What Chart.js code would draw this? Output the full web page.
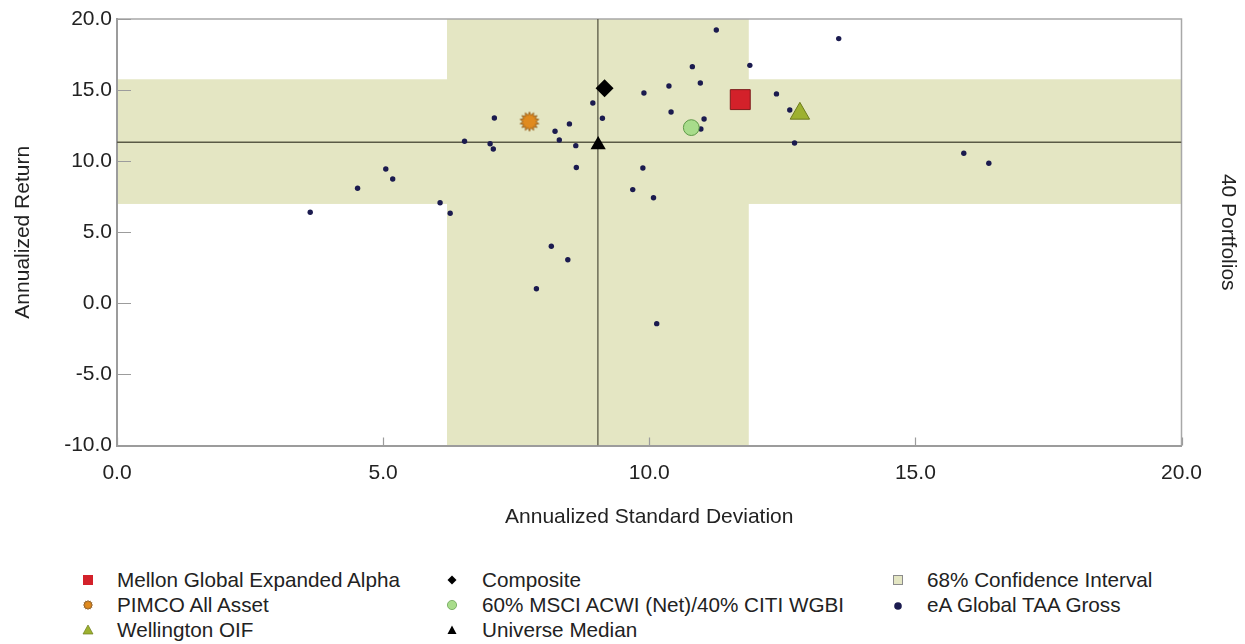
<!DOCTYPE html>
<html>
<head>
<meta charset="utf-8">
<script src="https://cdn.jsdelivr.net/npm/chart.js@4.4.1/dist/chart.umd.min.js"></script>
<style>
html,body{margin:0;padding:0;background:#fff;}
#wrap{position:relative;width:1245px;height:644px;font-family:"Liberation Sans",Arial,sans-serif;overflow:hidden;}
#c{position:absolute;left:0;top:0;}
.lg{position:absolute;font-size:20.7px;color:#222;line-height:24px;height:24px;white-space:nowrap;}
.lg canvas{position:absolute;top:2px;}
</style>
</head>
<body>
<div id="wrap">
<canvas id="c" width="1245" height="545"></canvas>
<div id="legend"></div>
</div>
<script>
// ---------------- DATA ----------------
const xTickValues = [0, 5, 10, 15, 20];
const yTickValues = [-10, -5, 0, 5, 10, 15, 20];

// eA Global TAA Gross universe (annualized std dev, annualized return)
const universeSD = [11.26, 10.81, 11.89, 10.96, 10.37, 9.90, 8.94, 12.39, 12.64, 10.41,
                    7.09, 9.12, 11.03, 8.50, 8.23, 10.97, 6.53, 8.31, 7.01, 7.07,
                    8.62, 12.73, 8.63, 9.88, 9.69, 10.08, 6.07, 6.26, 8.16, 8.47,
                    7.88, 10.14, 3.63, 4.52, 5.05, 5.18, 13.56, 15.91, 16.38];
const universeReturn = [19.23, 16.65, 16.74, 15.50, 15.29, 14.80, 14.09, 14.73, 13.60, 13.46,
                        13.04, 13.02, 12.97, 12.62, 12.10, 12.26, 11.40, 11.49, 11.23, 10.86,
                        11.09, 11.28, 9.55, 9.52, 8.00, 7.43, 7.08, 6.34, 4.01, 3.07,
                        1.03, -1.43, 6.41, 8.09, 9.45, 8.75, 18.62, 10.56, 9.85];

const seriesNames = ['Mellon Global Expanded Alpha', 'PIMCO All Asset', 'Wellington OIF',
                     'Composite', '60% MSCI ACWI (Net)/40% CITI WGBI', 'Universe Median'];
const seriesSD = [11.71, 7.75, 12.83, 9.16, 10.79, 9.04];
const seriesReturn = [14.33, 12.79, 13.35, 15.13, 12.36, 11.15];

const ciName = '68% Confidence Interval';
const ciSD = [6.20, 11.87];       // low, high
const ciReturn = [6.99, 15.76];   // low, high
const medianSD = 9.035;
const medianReturn = 11.33;
const universeName = 'eA Global TAA Gross';
const portfolioCount = 40;

// ---------------- STYLES ----------------
const FONT = '"Liberation Sans", Arial, sans-serif';
const bandColor = '#e4e6c3';
const medianLineColor = '#5a5a46';
const frameColor = '#9c9c9c';

function makeStar(size, outer, inner, n, fill, stroke) {
  const c = document.createElement('canvas');
  c.width = c.height = size;
  const g = c.getContext('2d');
  g.beginPath();
  for (let i = 0; i < 2 * n; i++) {
    const r = i % 2 ? inner : outer;
    const a = i * Math.PI / n - Math.PI / 2;
    const px = size / 2 + r * Math.cos(a), py = size / 2 + r * Math.sin(a);
    if (i) g.lineTo(px, py); else g.moveTo(px, py);
  }
  g.closePath();
  g.fillStyle = fill; g.fill();
  g.lineWidth = 0.8; g.strokeStyle = stroke; g.stroke();
  return c;
}
const starBig = makeStar(22, 9.6, 6.4, 14, '#e08a1e', '#8a5210');

const seriesStyles = [
  {pointStyle: 'rect', radius: 14.1, bg: '#d3212a', border: '#7d1a1a', bw: 1},
  {pointStyle: starBig, radius: 10, bg: '#e08a1e', border: '#8a5210', bw: 0},
  {pointStyle: 'triangle', radius: 11.2, bg: '#9db12f', border: '#6d7c1c', bw: 1},
  {pointStyle: 'rectRot', radius: 9, bg: '#000000', border: '#000000', bw: 0},
  {pointStyle: 'circle', radius: 7.9, bg: '#a8dc8b', border: '#5f9a48', bw: 1},
  {pointStyle: 'triangle', radius: 8.8, bg: '#000000', border: '#000000', bw: 0}
];

// ---------------- DATASETS ----------------
const datasets = [];
datasets.push({
  label: 'median-h', type: 'scatter', showLine: true, order: 5,
  data: [{x: xTickValues[0], y: medianReturn}, {x: xTickValues[xTickValues.length - 1], y: medianReturn}],
  borderColor: medianLineColor, borderWidth: 1.3, pointRadius: 0, fill: false
});
datasets.push({
  label: 'median-v', type: 'scatter', showLine: true, order: 5,
  data: [{x: medianSD, y: yTickValues[0]}, {x: medianSD, y: yTickValues[yTickValues.length - 1]}],
  borderColor: medianLineColor, borderWidth: 1.3, pointRadius: 0, fill: false
});
datasets.push({
  label: universeName, type: 'scatter', order: 3,
  data: universeSD.map((x, i) => ({x, y: universeReturn[i]})),
  pointStyle: 'circle', pointRadius: 2.7, pointBackgroundColor: '#1b1b4f', pointBorderWidth: 0
});
seriesNames.forEach((name, i) => {
  const s = seriesStyles[i];
  datasets.push({
    label: name, type: 'scatter', order: 1,
    data: [{x: seriesSD[i], y: seriesReturn[i]}],
    pointStyle: s.pointStyle, pointRadius: s.radius,
    pointBackgroundColor: s.bg, pointBorderColor: s.border, pointBorderWidth: s.bw
  });
});

// ---------------- PLUGIN: confidence band, frame, inward ticks ----------------
const bandPlugin = {
  id: 'bandPlugin',
  beforeDraw(chart) {
    const {ctx, chartArea: a, scales: {x, y}} = chart;
    ctx.save();
    ctx.fillStyle = bandColor;
    const vx1 = x.getPixelForValue(ciSD[0]), vx2 = x.getPixelForValue(ciSD[1]);
    ctx.fillRect(vx1, a.top, vx2 - vx1, a.bottom - a.top);
    const hy1 = y.getPixelForValue(ciReturn[1]), hy2 = y.getPixelForValue(ciReturn[0]);
    ctx.fillRect(a.left, hy1, a.right - a.left, hy2 - hy1);
    ctx.strokeStyle = '#a8a8a8';
    ctx.lineWidth = 1.5;
    ctx.beginPath();
    ctx.moveTo(a.left, a.top); ctx.lineTo(a.right, a.top); ctx.lineTo(a.right, a.bottom);
    ctx.stroke();
    ctx.strokeStyle = frameColor;
    ctx.lineWidth = 1.2;
    ctx.beginPath();
    yTickValues.forEach(v => {
      const py = Math.round(y.getPixelForValue(v)) + 0.5;
      ctx.moveTo(a.left, py); ctx.lineTo(a.left + 14, py);
    });
    xTickValues.forEach(v => {
      const px = Math.round(x.getPixelForValue(v)) + 0.5;
      ctx.moveTo(px, a.bottom); ctx.lineTo(px, a.bottom - 8);
    });
    ctx.stroke();
    ctx.restore();
  }
};

const tickFont = {family: FONT, size: 21};
const titleFont = {family: FONT, size: 21};

const chart = new Chart(document.getElementById('c'), {
  type: 'scatter',
  data: {datasets},
  options: {
    responsive: false,
    animation: false,
    events: [],
    layout: {padding: {top: 19, left: 0, right: 0, bottom: 0}},
    plugins: {legend: {display: false}, tooltip: {enabled: false}},
    scales: {
      x: {
        type: 'linear', position: 'bottom', min: xTickValues[0], max: xTickValues[xTickValues.length - 1],
        afterBuildTicks: s => { s.ticks = xTickValues.map(v => ({value: v})); },
        ticks: {callback: v => Number(v).toFixed(1), font: tickFont, color: '#222', padding: 15, maxRotation: 0, autoSkip: false},
        grid: {display: false, drawTicks: false},
        border: {display: true, color: frameColor, width: 2},
        title: {display: true, text: 'Annualized Standard Deviation', font: titleFont, color: '#222', padding: {top: 0, bottom: 15.4}},
        afterFit: s => { s.height = 99.5; }
      },
      y: {
        type: 'linear', position: 'left', min: yTickValues[0], max: yTickValues[yTickValues.length - 1],
        afterBuildTicks: s => { s.ticks = yTickValues.map(v => ({value: v})); },
        ticks: {callback: v => Number(v).toFixed(1), font: tickFont, color: '#222', padding: 5, autoSkip: false},
        grid: {display: false, drawTicks: false},
        border: {display: true, color: frameColor, width: 2},
        title: {display: true, text: 'Annualized Return', font: titleFont, color: '#222', padding: {top: 10.4, bottom: 0}},
        afterFit: s => { s.width = 117; }
      },
      y2: {
        type: 'linear', position: 'right', min: yTickValues[0], max: yTickValues[yTickValues.length - 1],
        display: true,
        ticks: {display: false},
        grid: {display: false, drawTicks: false},
        border: {display: false},
        title: {display: true, text: portfolioCount + ' Portfolios', font: titleFont, color: '#222', padding: {top: 4.4, bottom: 0}},
        afterFit: s => { s.width = 63.5; }
      }
    }
  },
  plugins: [bandPlugin]
});

// ---------------- HTML LEGEND ----------------
const legendCols = [{mx: 88, tx: 117}, {mx: 452, tx: 482}, {mx: 898, tx: 927}];
const legendRows = [579.5, 605, 630];
const legendItems = [
  {text: seriesNames[0], col: 0, row: 0, draw: g => { g.fillStyle = '#d3212a'; g.fillRect(5, 5, 10, 10); }},
  {text: seriesNames[1], col: 0, row: 1, draw: g => { g.drawImage(makeStar(20, 4.6, 3.2, 12, '#e08a1e', '#8a5210'), 0, 0); }},
  {text: seriesNames[2], col: 0, row: 2, draw: g => { g.fillStyle = '#9db12f'; g.beginPath(); g.moveTo(10, 5); g.lineTo(15, 14); g.lineTo(5, 14); g.closePath(); g.fill(); g.strokeStyle = '#6d7c1c'; g.lineWidth = 0.7; g.stroke(); }},
  {text: seriesNames[3], col: 1, row: 0, draw: g => { g.fillStyle = '#000'; g.beginPath(); g.moveTo(10, 5.5); g.lineTo(14.5, 10); g.lineTo(10, 14.5); g.lineTo(5.5, 10); g.closePath(); g.fill(); }},
  {text: seriesNames[4], col: 1, row: 1, draw: g => { g.fillStyle = '#a8dc8b'; g.beginPath(); g.arc(10, 10, 4.6, 0, Math.PI * 2); g.fill(); g.strokeStyle = '#5f9a48'; g.lineWidth = 0.7; g.stroke(); }},
  {text: seriesNames[5], col: 1, row: 2, draw: g => { g.fillStyle = '#000'; g.beginPath(); g.moveTo(10, 5.5); g.lineTo(14.5, 14); g.lineTo(5.5, 14); g.closePath(); g.fill(); }},
  {text: ciName, col: 2, row: 0, draw: g => { g.fillStyle = bandColor; g.fillRect(5.5, 5.5, 9, 9); g.strokeStyle = '#8c8c8c'; g.lineWidth = 1; g.strokeRect(5.5, 5.5, 9, 9); }},
  {text: universeName, col: 2, row: 1, draw: g => { g.fillStyle = '#1b1b4f'; g.beginPath(); g.arc(10, 11, 3.8, 0, Math.PI * 2); g.fill(); }}
];
const legendEl = document.getElementById('legend');
legendItems.forEach(it => {
  const c = legendCols[it.col];
  const d = document.createElement('div');
  d.className = 'lg';
  d.style.left = c.tx + 'px';
  d.style.top = (legendRows[it.row] - 12) + 'px';
  const cv = document.createElement('canvas');
  cv.width = 20; cv.height = 20;
  cv.style.left = (c.mx - c.tx - 10) + 'px';
  it.draw(cv.getContext('2d'));
  d.appendChild(cv);
  d.appendChild(document.createTextNode(it.text));
  legendEl.appendChild(d);
});
</script>
</body>
</html>
